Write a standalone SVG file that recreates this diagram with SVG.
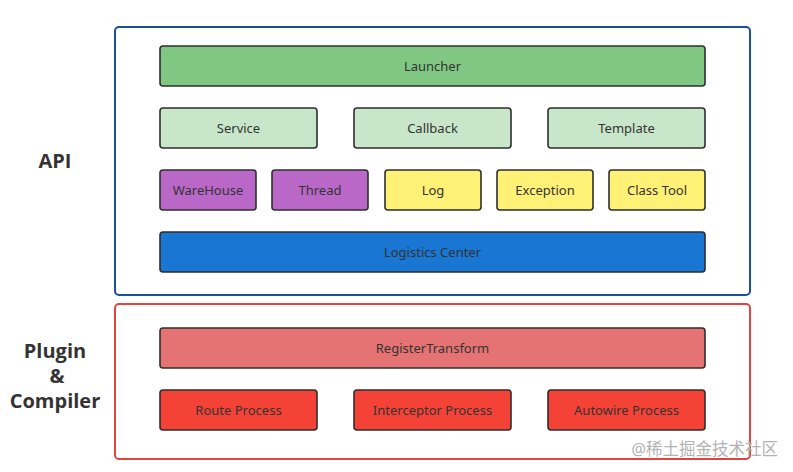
<svg xmlns="http://www.w3.org/2000/svg" width="793" height="472" viewBox="0 0 793 472">
<style>
.n rect{stroke:#2e2e2e;stroke-width:1.6}
.n text{font-family:"Noto Sans","Open Sans",sans-serif;font-size:13px;fill:#333;text-anchor:middle;dominant-baseline:central}
.lbl{font-family:"Open Sans","Noto Sans",sans-serif;font-size:20px;font-weight:bold;fill:#333;text-anchor:middle}
.g1{fill:#81c784}.g2{fill:#c8e6c9}.pu{fill:#ba68c8}.ye{fill:#fff176}.bl{fill:#1976d2}.r1{fill:#e57373}.r2{fill:#f44336}
</style>
<rect width="793" height="472" fill="#ffffff"/>
<g id="api-layer">
<rect x="115" y="27" width="635" height="268" rx="4" fill="none" stroke="#1a4f9c" stroke-width="2"/>
<text class="lbl" x="55" y="168">API</text>
</g>
<g id="plugin-layer">
<rect x="115" y="304" width="635" height="155" rx="4" fill="none" stroke="#e0453d" stroke-width="2"/>
<text class="lbl" x="55" y="358">Plugin</text>
<text class="lbl" x="57" y="383">&amp;</text>
<text class="lbl" x="55" y="408">Compiler</text>
</g>
<g id="launcher" class="n"><rect class="g1" x="160" y="46" width="545" height="40" rx="3"/><text x="432.5" y="66">Launcher</text></g>
<g id="service" class="n"><rect class="g2" x="160" y="108" width="157" height="40" rx="3"/><text x="238.5" y="128">Service</text></g>
<g id="callback" class="n"><rect class="g2" x="354" y="108" width="157" height="40" rx="3"/><text x="432.5" y="128">Callback</text></g>
<g id="template" class="n"><rect class="g2" x="548" y="108" width="157" height="40" rx="3"/><text x="626.5" y="128">Template</text></g>
<g id="warehouse" class="n"><rect class="pu" x="160" y="170" width="96" height="40" rx="3"/><text x="208" y="190">WareHouse</text></g>
<g id="thread" class="n"><rect class="pu" x="272" y="170" width="96" height="40" rx="3"/><text x="320" y="190">Thread</text></g>
<g id="log" class="n"><rect class="ye" x="385" y="170" width="96" height="40" rx="3"/><text x="433" y="190">Log</text></g>
<g id="exception" class="n"><rect class="ye" x="497" y="170" width="96" height="40" rx="3"/><text x="545" y="190">Exception</text></g>
<g id="classtool" class="n"><rect class="ye" x="609" y="170" width="96" height="40" rx="3"/><text x="657" y="190">Class Tool</text></g>
<g id="logistics" class="n"><rect class="bl" x="160" y="232" width="545" height="40" rx="3"/><text x="432.5" y="252">Logistics Center</text></g>
<g id="registertransform" class="n"><rect class="r1" x="160" y="328" width="545" height="40" rx="3"/><text x="432.5" y="348">RegisterTransform</text></g>
<g id="route" class="n"><rect class="r2" x="160" y="390" width="157" height="40" rx="3"/><text x="238.5" y="410">Route Process</text></g>
<g id="interceptor" class="n"><rect class="r2" x="354" y="390" width="157" height="40" rx="3"/><text x="432.5" y="410">Interceptor Process</text></g>
<g id="autowire" class="n"><rect class="r2" x="548" y="390" width="157" height="40" rx="3"/><text x="626.5" y="410">Autowire Process</text></g>
<g id="connectors"></g>
<text x="778" y="455" font-family="'Noto Sans','Noto Sans CJK SC',sans-serif" font-size="16.5" fill="#b3b3b3" text-anchor="end">@稀土掘金技术社区</text>
</svg>
